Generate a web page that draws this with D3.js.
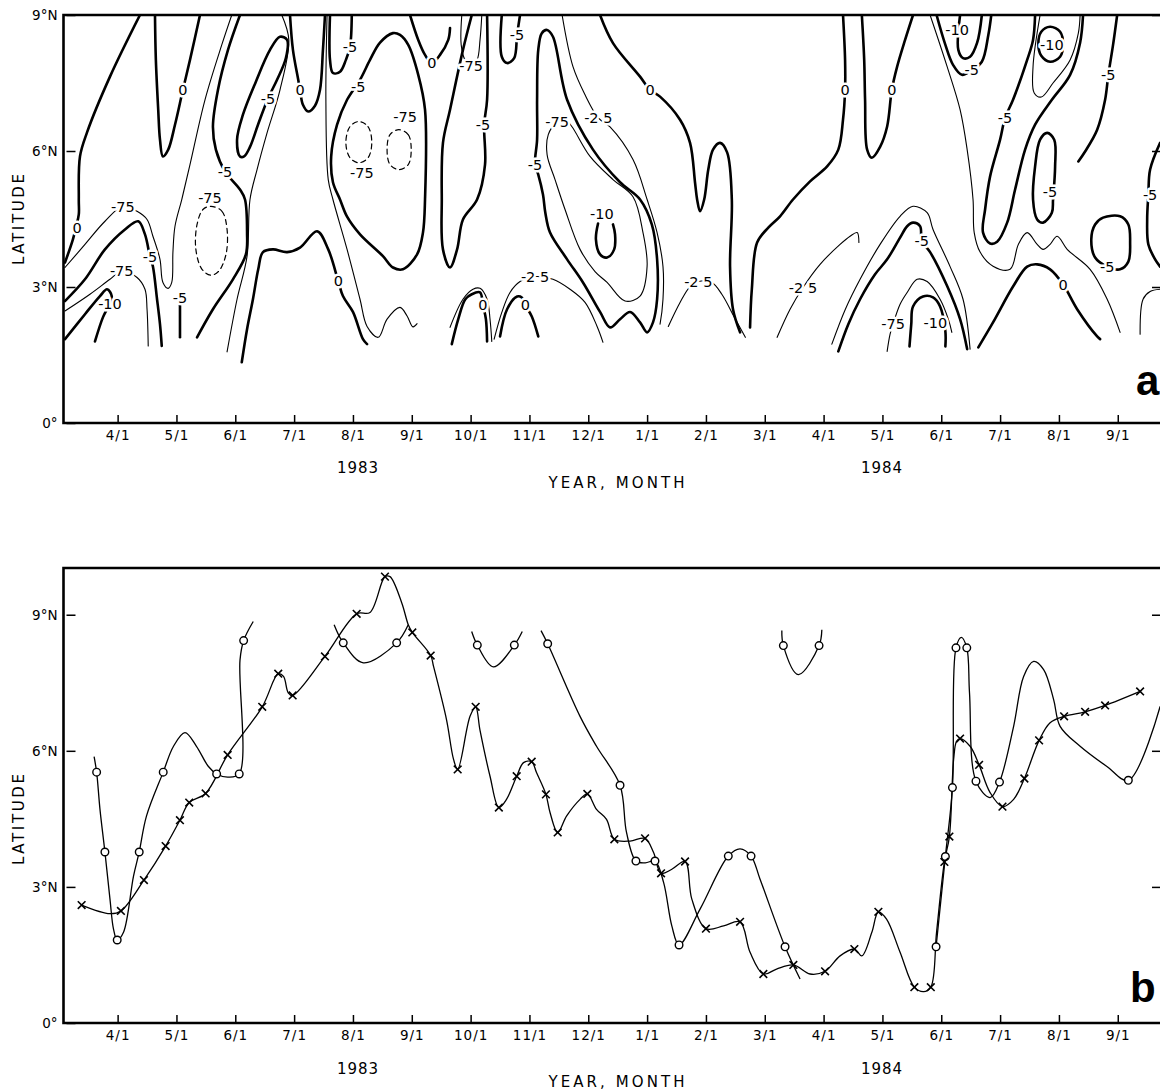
<!DOCTYPE html>
<html><head><meta charset="utf-8">
<script src="https://cdn.jsdelivr.net/npm/d3@7"></script>
<style>body{margin:0;background:#fff}svg{display:block}</style>
</head><body>
<svg id="c" width="1160" height="1091"></svg>
<script>
// ---- time axis: decimal months since 1 Jan 1983 (3 = 1 Apr 1983) ----
const monthTicks = [3,4,5,6,7,8,9,10,11,12,13,14,15,16,17,18,19,20];
const latTicksA = [0,3,6,9];
const latTicksB = [0,3,6,9];

// ---- panel a: contour lines [month, latitude] ----
const zeroLines = [
 [[3.38,9.0],[2.87,7.64],[2.48,6.41],[2.36,5.88],[2.34,4.93],[2.34,4.60],[2.29,4.31],[2.24,4.05],[2.105,3.54]],
 [[3.635,9.0],[3.65,8.01],[3.69,6.91],[3.72,6.25],[3.77,5.88],[3.86,6.03],[3.975,6.58],[4.11,7.35],[4.23,8.01],[4.40,9.0]],
 [[5.11,1.34],[5.20,2.07],[5.30,2.73],[5.39,3.39],[5.47,3.77],[5.64,3.83],[5.88,3.77],[6.10,3.87],[6.39,4.23],[6.58,3.83],[6.75,3.13],[6.83,2.80],[7.00,2.45],[7.17,1.85],[7.24,1.74]],
 [[5.93,9.0],[5.98,8.23],[6.07,7.57],[6.10,7.35],[6.15,7.02],[6.24,6.87],[6.355,7.00],[6.44,7.35],[6.49,8.23],[6.525,9.0]],
 [[7.97,9.0],[8.11,8.45],[8.225,8.12],[8.34,7.94],[8.48,8.12],[8.62,8.45],[8.65,8.71]],
 [[8.68,1.74],[8.79,2.29],[8.91,2.73],[9.02,2.84],[9.16,2.88],[9.21,2.60],[9.26,2.29],[9.28,1.80]],
 [[9.50,1.91],[9.62,2.51],[9.79,2.79],[9.87,2.77],[9.93,2.60],[10.04,2.35],[10.15,1.91]],
 [[11.20,9.0],[11.42,8.38],[11.88,7.64],[12.05,7.35],[12.22,7.20],[12.56,6.69],[12.73,6.18],[12.815,5.30],[12.85,4.93],[12.90,4.67],[12.97,4.93],[13.04,5.59],[13.12,6.03],[13.24,6.18],[13.36,5.97],[13.44,4.93],[13.41,3.45],[13.46,2.51],[13.58,2.00]],
 [[13.75,2.11],[13.78,2.95],[13.87,3.98],[14.06,4.31],[14.26,4.56],[14.48,4.93],[14.77,5.33],[15.06,5.66],[15.25,6.03],[15.33,6.69],[15.365,7.35],[15.365,8.01],[15.33,9.0]],
 [[15.65,9.0],[15.69,8.01],[15.705,7.13],[15.74,6.03],[15.82,5.85],[15.96,6.09],[16.08,6.54],[16.16,7.35],[16.25,7.86],[16.385,8.45],[16.52,9.0]],
 [[17.63,1.67],[17.88,2.22],[18.22,3.01],[18.46,3.45],[18.63,3.50],[18.85,3.39],[19.07,3.06],[19.31,2.51],[19.65,1.91],[19.70,1.85]]
];
const minus5Lines = [
 [[2.105,2.69],[2.445,3.17],[2.785,3.83],[3.125,4.27],[3.35,4.45],[3.465,4.16],[3.55,3.67],[3.60,3.45],[3.67,2.73],[3.72,2.18],[3.75,1.70]],
 [[4.06,2.60],[4.06,2.30],[4.06,1.89]],
 [[5.08,9.0],[4.876,8.23],[4.706,7.35],[4.62,6.54],[4.67,6.03],[4.825,5.55],[5.08,5.15],[5.165,4.93],[5.20,4.20],[5.18,3.72],[4.96,3.17],[4.62,2.51],[4.35,1.89]],
 [[6.61,9.0],[6.61,8.01],[6.66,7.72],[6.78,7.75],[6.88,8.01],[6.95,8.30],[6.98,9.0]],
 [[9.02,9.0],[8.87,8.23],[8.65,6.91],[8.53,6.18],[8.51,4.93],[8.53,3.83],[8.65,3.43],[8.77,3.83],[8.87,4.49],[9.11,4.93],[9.245,5.70],[9.23,6.58],[9.28,7.13],[9.28,9.0]],
 [[9.53,9.0],[9.53,8.08],[9.62,7.94],[9.74,8.05],[9.79,8.56],[9.84,9.0]],
 [[15.25,1.58],[15.42,2.18],[15.62,2.73],[15.875,3.28],[16.08,3.61],[16.30,4.09],[16.42,4.34],[16.52,4.42],[16.64,4.34],[16.67,4.01],[16.81,3.77],[17.10,3.02],[17.32,2.29],[17.44,1.63]],
 [[16.92,9.0],[17.07,8.34],[17.20,7.90],[17.35,7.68],[17.52,7.79],[17.69,7.97],[17.80,8.56],[17.85,9.0]],
 [[18.595,9.0],[18.56,8.45],[18.46,8.01],[18.22,7.13],[18.085,6.73],[18.0,6.25],[17.83,5.44],[17.745,4.71],[17.71,4.20],[17.83,3.96],[17.95,4.00],[18.12,4.42],[18.255,5.15],[18.425,6.03],[18.595,6.58],[18.88,7.13],[19.19,7.68],[19.36,8.39],[19.41,9.0]],
 [[19.99,9.0],[19.92,8.34],[19.84,7.68],[19.785,7.13],[19.65,6.47],[19.445,5.99],[19.33,5.77]],
 [[20.72,6.18],[20.55,5.59],[20.52,5.04],[20.50,4.49],[20.52,3.94],[20.635,3.61],[20.72,3.45]]
];
const minus5Loops = [
 [[5.08,5.88],[5.03,6.25],[5.13,6.80],[5.35,7.53],[5.59,8.23],[5.76,8.52],[5.88,8.45],[5.86,8.05],[5.71,7.57],[5.556,7.16],[5.386,6.58],[5.25,6.09],[5.15,5.88]],
 [[7.68,8.60],[7.46,8.39],[7.29,8.01],[7.12,7.57],[6.90,7.13],[6.73,6.58],[6.63,5.88],[6.66,5.31],[6.78,4.93],[6.90,4.55],[7.12,4.16],[7.51,3.68],[7.68,3.43],[7.85,3.39],[8.09,3.72],[8.19,4.20],[8.225,4.93],[8.225,6.91],[8.11,7.68],[7.94,8.34],[7.80,8.56]],
 [[10.30,8.67],[10.40,8.52],[10.64,7.13],[11.08,6.03],[11.54,5.31],[11.88,4.93],[12.08,4.38],[12.17,3.61],[12.17,2.73],[12.10,2.22],[12.00,2.00],[11.88,2.22],[11.71,2.45],[11.54,2.29],[11.37,2.11],[11.20,2.45],[10.91,3.10],[10.64,3.61],[10.35,4.20],[10.27,4.64],[10.23,5.04],[10.15,5.48],[10.095,5.70],[10.13,6.25],[10.13,7.13],[10.15,8.23],[10.21,8.60]],
 [[18.80,6.40],[18.92,6.25],[18.935,5.66],[18.90,4.93],[18.88,4.64],[18.73,4.42],[18.63,4.49],[18.56,4.93],[18.595,5.66],[18.68,6.25]],
 [[19.75,4.53],[20.04,4.56],[20.18,4.38],[20.21,3.98],[20.18,3.56],[20.04,3.39],[19.82,3.45],[19.615,3.65],[19.55,4.05],[19.615,4.38]]
];
const minus10Lines = [
 [[2.105,1.85],[2.445,2.40],[2.70,2.80],[2.82,2.95],[2.90,2.80],[2.84,2.57],[2.75,2.33],[2.615,1.80]],
 [[11.166,4.40],[11.13,4.05],[11.20,3.72],[11.32,3.65],[11.44,3.83],[11.455,4.16],[11.42,4.38]],
 [[16.46,1.69],[16.49,2.18],[16.52,2.57],[16.69,2.79],[16.86,2.77],[16.98,2.57],[17.07,2.02],[17.07,1.69]],
 [[17.32,9.0],[17.29,8.23],[17.37,8.05],[17.49,8.08],[17.61,8.39],[17.69,9.0]]
];
const minus10Loops = [
 [[18.85,8.74],[19.02,8.63],[19.07,8.34],[19.02,8.08],[18.85,7.97],[18.70,8.10],[18.65,8.36],[18.70,8.63]]
];
const minus75Lines = [
 [[2.105,3.43],[2.445,3.94],[2.785,4.45],[3.09,4.78],[3.33,4.67],[3.50,4.49],[3.60,4.12],[3.72,3.61],[3.77,3.10],[3.86,2.97],[3.92,3.10],[3.94,3.77],[3.975,4.34],[4.09,4.93],[4.23,5.70],[4.485,7.13],[4.77,8.34],[4.94,9.0]],
 [[2.105,2.47],[2.53,2.84],[2.87,3.17],[3.07,3.35],[3.33,3.21],[3.465,2.95],[3.50,2.51],[3.52,1.70]],
 [[8.85,9.0],[8.84,8.34],[8.905,8.01],[9.01,7.88],[9.11,8.01],[9.16,8.45],[9.19,9.0]],
 [[16.08,1.58],[16.13,1.96],[16.18,2.18],[16.30,2.62],[16.42,2.88],[16.59,3.17],[16.76,3.12],[16.98,2.73],[17.12,2.29],[17.18,2.00]],
 [[18.68,9.0],[18.56,7.86],[18.58,7.28],[18.70,7.19],[18.90,7.50],[19.19,8.01],[19.33,8.60],[19.36,9.0]]
];
const minus75Loops = [
 [[10.47,6.64],[10.32,6.36],[10.30,5.92],[10.435,5.37],[10.605,4.71],[10.86,3.83],[11.115,3.34],[11.32,3.10],[11.625,2.69],[11.88,2.80],[12.00,3.46],[11.93,4.20],[11.76,4.99],[11.42,5.37],[11.03,5.88],[10.72,6.54],[10.605,6.70]]
];
const minus75Dashed = [
 [[4.587,4.78],[4.774,4.67],[4.86,4.27],[4.842,3.72],[4.72,3.35],[4.587,3.26],[4.434,3.39],[4.33,3.83],[4.35,4.38],[4.45,4.71]],
 [[7.10,6.65],[7.256,6.54],[7.32,6.18],[7.256,5.85],[7.10,5.74],[6.95,5.85],[6.88,6.18],[6.95,6.54]],
 [[7.78,6.47],[7.94,6.36],[7.99,6.03],[7.94,5.70],[7.78,5.59],[7.63,5.70],[7.58,6.03],[7.63,6.36]]
];
const minus25Lines = [
 [[5.79,9.0],[5.91,8.45],[5.76,7.35],[5.54,6.40],[5.37,5.59],[5.25,4.93],[5.20,3.68],[5.03,2.73],[4.86,1.57]],
 [[6.56,9.0],[6.54,7.13],[6.58,5.37],[6.66,4.93],[6.90,3.83],[7.12,2.73],[7.24,2.13],[7.43,1.89],[7.58,2.29],[7.80,2.55],[7.92,2.36],[8.02,2.12],[8.09,2.19]],
 [[10.555,9.0],[10.74,7.86],[10.945,7.24],[11.17,6.73],[11.37,6.53],[11.76,5.81],[12.00,4.93],[12.17,4.20],[12.27,3.45],[12.27,2.73],[12.22,2.18]],
 [[9.40,1.85],[9.53,2.44],[9.67,2.88],[9.84,3.12],[10.095,3.23],[10.40,3.17],[10.69,2.95],[10.945,2.66],[11.15,2.13],[11.25,1.78]],
 [[8.65,2.11],[8.87,2.73],[9.04,2.95],[9.16,2.97],[9.28,2.73],[9.33,2.29],[9.36,1.80]],
 [[12.36,2.13],[12.56,2.66],[12.73,3.01],[12.87,3.12],[13.10,3.10],[13.27,2.84],[13.50,2.29],[13.67,1.89]],
 [[14.21,1.89],[14.43,2.51],[14.65,2.99],[14.94,3.50],[15.28,3.94],[15.45,4.12],[15.57,4.20],[15.60,3.98]],
 [[15.14,1.74],[15.37,2.51],[15.62,3.17],[15.96,3.94],[16.30,4.56],[16.52,4.78],[16.76,4.64],[16.86,4.27],[17.15,3.45],[17.37,2.73],[17.49,1.63]],
 [[16.81,9.0],[17.10,7.86],[17.32,6.91],[17.44,6.03],[17.54,4.93],[17.56,4.20],[17.66,3.77],[17.88,3.46],[18.17,3.39],[18.31,3.94],[18.46,4.20],[18.63,3.94],[18.73,3.83],[18.85,3.94],[18.97,4.12],[19.14,3.83],[19.53,3.39],[19.82,2.73],[20.04,2.00]],
 [[20.38,1.96],[20.43,2.73],[20.55,2.90],[20.72,2.95]]
];
const contourLabels = [
 ["0",2.31,4.31],["-75",3.09,4.78],["-5",3.55,3.67],["-75",3.07,3.35],["-10",2.87,2.62],["-5",4.06,2.76],
 ["0",4.11,7.35],["-5",4.825,5.55],["-75",4.57,4.97],["-5",5.556,7.16],["0",6.75,3.13],["0",6.10,7.35],
 ["-5",6.95,8.30],["-5",7.09,7.41],["-75",7.15,5.52],["-75",7.885,6.75],["0",8.34,7.94],["-75",9.01,7.88],
 ["-5",9.21,6.58],["-5",9.79,8.56],["-5",10.095,5.70],["-75",10.47,6.64],["-2 5",11.17,6.73],["-10",11.23,4.62],
 ["-2 5",10.095,3.23],["0",9.93,2.60],["0",9.21,2.60],["0",12.05,7.35],["-2 5",12.87,3.12],["-2 5",14.65,2.99],
 ["0",15.365,7.35],["0",16.16,7.35],["-5",16.67,4.01],["-75",16.18,2.18],["-10",16.90,2.22],["0",19.07,3.06],
 ["-10",17.27,8.67],["-5",17.52,7.79],["-5",18.085,6.73],["-10",18.88,8.34],["-5",18.85,5.11],["-5",19.84,7.68],
 ["-5",19.82,3.45],["-5",20.55,5.04]
];

// ---- panel b: two latitude tracks [month, latitude] ----
const circleMarkers = [[2.643,5.53],[2.784,3.77],[2.993,1.83],[3.367,3.77],[3.775,5.53],[4.683,5.49],[5.067,5.49],[5.142,8.43],
 [6.835,8.38],[7.743,8.38],[9.114,8.33],[9.743,8.33],[10.31,8.36],[11.54,5.24],[11.81,3.57],[12.134,3.57],[12.543,1.72],
 [13.38,3.68],[13.767,3.68],[14.345,1.68],[14.316,8.32],[14.923,8.32],[16.912,1.68],[17.07,3.67],[17.19,5.19],[17.25,8.27],
 [17.434,8.27],[17.59,5.33],[17.99,5.31],[20.18,5.35]];
const circleTrace = [
 [[2.60,5.87],[2.643,5.53],[2.70,4.71],[2.784,3.77],[2.87,2.73],[2.93,2.07],[2.993,1.83],[3.10,2.0],[3.27,3.24],[3.367,3.77],[3.49,4.56],[3.775,5.53],[3.95,6.10],[4.145,6.40],[4.34,6.10],[4.54,5.66],[4.683,5.49],[4.87,5.42],[5.067,5.49],[5.08,8.0],[5.142,8.43],[5.305,8.85]],
 [[6.68,8.78],[6.835,8.38],[7.176,7.94],[7.743,8.38],[7.94,8.78]],
 [[9.018,8.63],[9.114,8.33],[9.386,7.85],[9.743,8.33],[9.878,8.63]],
 [[10.197,8.65],[10.31,8.36],[10.86,6.76],[11.14,6.10],[11.54,5.24],[11.65,4.20],[11.81,3.57],[11.97,3.53],[12.134,3.57],[12.28,3.10],[12.42,2.14],[12.543,1.72],[12.90,2.51],[13.38,3.68],[13.58,3.84],[13.767,3.68],[13.92,3.17],[14.345,1.68],[14.60,0.97]],
 [[14.29,8.65],[14.316,8.32],[14.571,7.68],[14.923,8.32],[14.97,8.67]],
 [[16.912,1.68],[17.07,3.67],[17.19,5.19],[17.25,8.27],[17.34,8.50],[17.434,8.27],[17.48,7.28],[17.59,5.33],[17.83,4.97],[17.99,5.31],[18.23,6.54],[18.40,7.64],[18.57,7.97],[18.74,7.79],[18.91,7.13],[19.02,6.54],[19.36,6.10],[19.81,5.66],[20.18,5.35],[20.72,6.98]]
];
const crossMarkers = [[2.388,2.60],[3.056,2.47],[3.447,3.15],[3.816,3.90],[4.059,4.47],[4.217,4.86],[4.496,5.06],[4.87,5.91],
 [5.458,6.97],[5.730,7.70],[5.975,7.22],[6.524,8.08],[7.063,9.02],[7.544,9.84],[8.009,8.61],[8.321,8.10],[8.78,5.59],[9.086,6.97],
 [9.48,4.75],[9.783,5.44],[10.038,5.76],[10.28,5.04],[10.48,4.20],[10.984,5.05],[11.443,4.05],[11.965,4.07],[12.237,3.30],
 [12.645,3.56],[13.0,2.08],[13.58,2.23],[13.976,1.08],[14.486,1.28],[15.025,1.14],[15.523,1.63],[15.931,2.45],[16.543,0.79],
 [16.822,0.79],[17.053,3.55],[17.138,4.11],[17.32,6.27],[17.643,5.69],[18.04,4.77],[18.413,5.39],[18.663,6.23],[19.088,6.76],
 [19.445,6.86],[19.785,7.00],[20.38,7.31]];
const crossTrace = [[2.388,2.60],[2.87,2.41],[3.056,2.47],[3.447,3.15],[3.816,3.90],[4.059,4.47],[4.217,4.86],[4.496,5.06],[4.87,5.91],
 [5.458,6.97],[5.730,7.70],[5.82,7.64],[5.90,7.28],[5.975,7.22],[6.524,8.08],[7.063,9.02],[7.29,9.05],[7.544,9.84],[7.63,9.84],
 [7.83,9.26],[7.94,8.78],[8.009,8.61],[8.321,8.10],[8.37,7.86],[8.59,6.69],[8.71,5.81],[8.78,5.59],[8.99,6.76],[9.086,6.97],
 [9.16,6.45],[9.33,5.44],[9.48,4.75],[9.61,4.93],[9.783,5.44],[9.90,5.74],[10.038,5.76],[10.12,5.52],[10.28,5.04],[10.35,4.64],
 [10.48,4.20],[10.63,4.56],[10.86,4.93],[10.984,5.05],[11.14,4.71],[11.31,4.49],[11.443,4.05],[11.71,4.01],[11.965,4.07],
 [12.11,3.76],[12.237,3.30],[12.42,3.39],[12.645,3.56],[12.76,2.73],[13.0,2.08],[13.30,2.14],[13.58,2.23],[13.75,1.56],
 [13.976,1.08],[14.20,1.19],[14.486,1.28],[14.77,1.08],[15.025,1.14],[15.28,1.48],[15.523,1.63],[15.65,1.48],[15.82,2.00],
 [15.931,2.45],[16.07,2.29],[16.30,1.56],[16.543,0.79],[16.70,0.69],[16.822,0.79],[16.92,2.00],[17.053,3.55],[17.138,4.11],
 [17.21,5.81],[17.26,6.21],[17.32,6.27],[17.49,6.10],[17.643,5.69],[17.83,5.08],[18.04,4.77],[18.23,4.93],[18.413,5.39],
 [18.663,6.23],[18.85,6.62],[19.088,6.76],[19.445,6.86],[19.785,7.00],[20.38,7.31]];

// ================= drawing =================
const svg = d3.select("#c");
const FONT = "'DejaVu Sans', sans-serif";
const x = d3.scaleLinear().domain([2.08, 20.82]).range([63.5, 1166]);
const yA = d3.scaleLinear().domain([0, 9]).range([423, 15]);
const yB = d3.scaleLinear().domain([0, 10.03]).range([1023, 568]);
const fmtMonth = m => ((m % 12) + 1) + "/1";
const fmtLat = v => v === 0 ? "0°" : v + "°N";

function panel(y, top, bottom, yearY, titleY, letter, letterX, letterY, latMid, latTicks) {
  const g = svg.append("g");
  const ax = g.append("g").attr("transform", `translate(0,${bottom})`)
    .call(d3.axisBottom(x).tickValues(monthTicks).tickSize(-8).tickPadding(7).tickFormat(fmtMonth));
  ax.select(".domain").remove();
  ax.selectAll("line").attr("stroke", "#000").attr("stroke-width", 1.5);
  ax.selectAll("text").attr("font-family", FONT).attr("font-size", 13.5).attr("letter-spacing", 1).attr("fill", "#000");
  const ay = g.append("g").attr("transform", `translate(63.5,0)`)
    .call(d3.axisLeft(y).tickValues(latTicks).tickSize(-12).tickPadding(6).tickFormat(fmtLat));
  ay.select(".domain").remove();
  ay.selectAll("line").attr("stroke", "#000").attr("stroke-width", 1.5).attr("x1", 3);
  ay.selectAll("text").attr("font-family", FONT).attr("font-size", 13.5).attr("fill", "#000");
  const ar = g.append("g").attr("transform", `translate(1166,0)`)
    .call(d3.axisRight(y).tickValues(latTicks.filter(v => v > 0 && v < 9.5)).tickSize(-14).tickFormat(""));
  ar.select(".domain").remove();
  ar.selectAll("line").attr("stroke", "#000").attr("stroke-width", 1.5);
  g.append("path").attr("d", `M1166,${top}H63.5V${bottom}H1166`).attr("fill", "none")
    .attr("stroke", "#000").attr("stroke-width", 2.6);
  const t = g.append("g").attr("font-family", FONT).attr("font-size", 15).attr("text-anchor", "middle").attr("letter-spacing", 1);
  t.append("text").attr("x", 358).attr("y", yearY).text("1983");
  t.append("text").attr("x", 882).attr("y", yearY).text("1984");
  t.append("text").attr("x", 617).attr("y", titleY).attr("textLength", 137).attr("lengthAdjust", "spacing").text("YEAR, MONTH");
  t.append("text").attr("transform", `translate(24,${latMid}) rotate(-90)`).attr("textLength", 92)
    .attr("lengthAdjust", "spacing").text("LATITUDE");
  g.append("text").attr("x", letterX).attr("y", letterY).attr("font-family", "'Liberation Sans', Arial, sans-serif")
    .attr("font-weight", "bold").attr("font-size", 42).text(letter);
}

panel(yA, 15, 423, 473, 488, "a", 1136, 395, 219, latTicksA);
panel(yB, 568, 1023, 1074, 1087, "b", 1130, 1002, 819, latTicksB);

const defs = svg.append("defs");
defs.append("clipPath").attr("id", "clipA").append("rect").attr("x", 64).attr("y", 15).attr("width", 1100).attr("height", 408);
defs.append("clipPath").attr("id", "clipB").append("rect").attr("x", 64).attr("y", 569).attr("width", 1100).attr("height", 453);

// ---- panel a contours ----
const gA = svg.append("g").attr("clip-path", "url(#clipA)");
const openLine = d3.line().x(d => x(d[0])).y(d => yA(d[1])).curve(d3.curveCatmullRom.alpha(0.5));
const closedLine = d3.line().x(d => x(d[0])).y(d => yA(d[1])).curve(d3.curveCatmullRomClosed.alpha(0.5));
function drawSet(data, gen, width, dash) {
  gA.append("g").selectAll("path").data(data).join("path")
    .attr("d", gen).attr("fill", "none").attr("stroke", "#000")
    .attr("stroke-width", width).attr("stroke-dasharray", dash || null)
    .attr("stroke-linecap", "round").attr("stroke-linejoin", "round");
}
drawSet(minus25Lines, openLine, 1.1);
drawSet(minus75Lines, openLine, 1.1);
drawSet(minus75Loops, closedLine, 1.1);
drawSet(minus75Dashed, closedLine, 1.2, "5,4");
drawSet(zeroLines, openLine, 2.6);
drawSet(minus5Lines, openLine, 2.6);
drawSet(minus5Loops, closedLine, 2.6);
drawSet(minus10Lines, openLine, 2.6);
drawSet(minus10Loops, closedLine, 2.6);

gA.append("g").selectAll("text").data(contourLabels).join("text")
  .attr("x", d => x(d[1])).attr("y", d => yA(d[2]))
  .attr("dy", "0.36em").attr("text-anchor", "middle")
  .attr("font-family", FONT).attr("font-size", 14.5)
  .attr("fill", "#000").attr("stroke", "#fff").attr("stroke-width", 5)
  .attr("paint-order", "stroke").attr("stroke-linejoin", "round")
  .text(d => d[0]);

// ---- panel b tracks ----
const gB = svg.append("g").attr("clip-path", "url(#clipB)");
const lineB = d3.line().x(d => x(d[0])).y(d => yB(d[1])).curve(d3.curveCatmullRom.alpha(0.5));
gB.append("path").datum(crossTrace).attr("d", lineB).attr("fill", "none").attr("stroke", "#000").attr("stroke-width", 1.3);
gB.append("g").selectAll("path").data(circleTrace).join("path").attr("d", lineB)
  .attr("fill", "none").attr("stroke", "#000").attr("stroke-width", 1.3);
gB.append("g").selectAll("circle").data(circleMarkers).join("circle")
  .attr("cx", d => x(d[0])).attr("cy", d => yB(d[1])).attr("r", 3.8)
  .attr("fill", "#fff").attr("stroke", "#000").attr("stroke-width", 1.4);
const crossSym = d3.symbol().type(d3.symbolX).size(40);
gB.append("g").selectAll("path").data(crossMarkers).join("path")
  .attr("transform", d => `translate(${x(d[0])},${yB(d[1])})`).attr("d", crossSym)
  .attr("fill", "none").attr("stroke", "#000").attr("stroke-width", 1.6);
</script>
</body></html>
